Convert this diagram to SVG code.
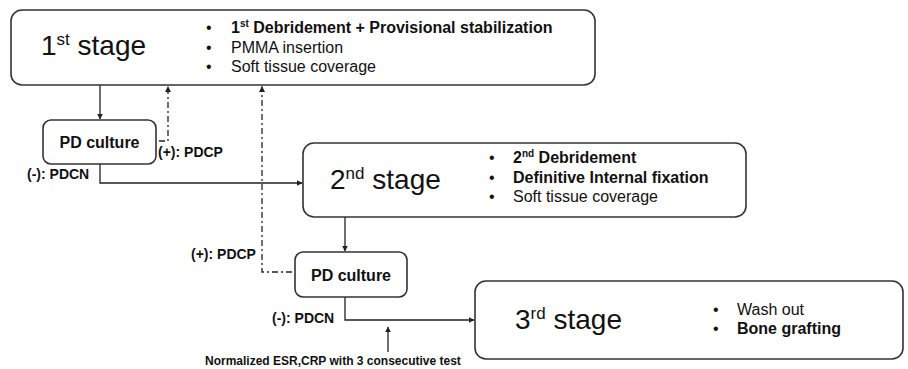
<svg xmlns="http://www.w3.org/2000/svg" width="908" height="369" viewBox="0 0 908 369">
<defs>
<style>
.box{fill:#fff;stroke:#333;stroke-width:1.6}
.t{font-family:"Liberation Sans",Arial,sans-serif;fill:#111}
.stage{font-size:28px}
.li{font-size:16px}
.b{font-weight:bold}
.lbl{font-size:14px;font-weight:bold}
.solid{fill:none;stroke:#222;stroke-width:1.3}
.dd{fill:none;stroke:#222;stroke-width:1.3;stroke-dasharray:6 3 2 3}
</style>
<marker id="ah" viewBox="0 0 10 10" refX="9" refY="5" markerWidth="6" markerHeight="6" orient="auto" markerUnits="userSpaceOnUse">
<path d="M0,0 L10,5 L0,10 z" fill="#222"/>
</marker>
</defs>
<rect width="908" height="369" fill="#fff"/>

<g id="connectors">
<path class="solid" d="M100,85 V119" marker-end="url(#ah)"/>
<path class="solid" d="M100,164 V183 H302" marker-end="url(#ah)"/>
<path class="solid" d="M345,217 V251" marker-end="url(#ah)"/>
<path class="solid" d="M345,297 V320 H474" marker-end="url(#ah)"/>
<path class="solid" d="M388,352 V327" marker-end="url(#ah)"/>
<path class="dd" d="M159,141 H168 V86.5" marker-end="url(#ah)"/>
<path class="dd" d="M292,272 H262 V86.5" marker-end="url(#ah)"/>
</g>

<g id="stage1">
<rect class="box" x="11" y="10" width="584" height="75" rx="11"/>
<text class="t stage" x="41" y="55">1<tspan font-size="17" dy="-10">st</tspan><tspan dy="10"> stage</tspan></text>
<text class="t li" x="206" y="33">•</text>
<text class="t li b" x="231" y="33">1<tspan font-size="10" dy="-6">st</tspan><tspan dy="6"> Debridement + Provisional stabilization</tspan></text>
<text class="t li" x="206" y="53">•</text>
<text class="t li" x="231" y="53">PMMA insertion</text>
<text class="t li" x="206" y="72">•</text>
<text class="t li" x="231" y="72">Soft tissue coverage</text>
</g>

<g id="pd1">
<rect class="box" x="43" y="120" width="113" height="44" rx="8"/>
<text class="t li b" x="99.5" y="148" text-anchor="middle">PD culture</text>
</g>

<g id="stage2">
<rect class="box" x="303" y="143" width="443" height="74" rx="11"/>
<text class="t stage" x="330" y="189">2<tspan font-size="17" dy="-10">nd</tspan><tspan dy="10"> stage</tspan></text>
<text class="t li" x="489" y="163">•</text>
<text class="t li b" x="513" y="163">2<tspan font-size="10" dy="-6">nd</tspan><tspan dy="6"> Debridement</tspan></text>
<text class="t li" x="489" y="183">•</text>
<text class="t li b" x="513" y="183">Definitive Internal fixation</text>
<text class="t li" x="489" y="202">•</text>
<text class="t li" x="513" y="202">Soft tissue coverage</text>
</g>

<g id="pd2">
<rect class="box" x="295" y="252" width="112" height="45" rx="8"/>
<text class="t li b" x="351" y="281" text-anchor="middle">PD culture</text>
</g>

<g id="stage3">
<rect class="box" x="475" y="281" width="428" height="78" rx="11"/>
<text class="t stage" x="515" y="329">3<tspan font-size="17" dy="-10">rd</tspan><tspan dy="10"> stage</tspan></text>
<text class="t li" x="713" y="315">•</text>
<text class="t li" x="737" y="315">Wash out</text>
<text class="t li" x="713" y="334">•</text>
<text class="t li b" x="737" y="334">Bone grafting</text>
</g>

<g id="labels">
<text class="t lbl" x="158" y="157">(+): PDCP</text>
<text class="t lbl" x="27" y="179">(-): PDCN</text>
<text class="t lbl" x="191" y="259">(+): PDCP</text>
<text class="t lbl" x="272" y="323">(-): PDCN</text>
<text class="t" x="205" y="365" font-size="12" font-weight="bold">Normalized ESR,CRP with 3 consecutive test</text>
</g>
</svg>
